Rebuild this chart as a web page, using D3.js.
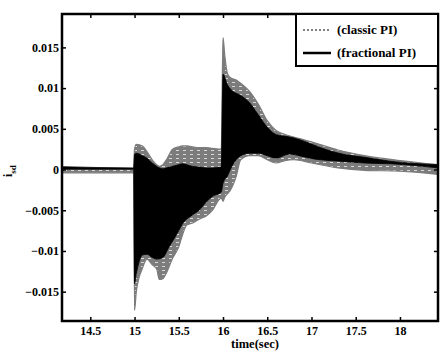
<!DOCTYPE html>
<html>
<head>
<meta charset="utf-8">
<script src="https://cdn.jsdelivr.net/npm/d3@7"></script>
<style>
  body { margin: 0; background: #fff; }
</style>
</head>
<body>
<figure id="chart" style="margin:0"></figure>
<script>
// classic PI envelope (grey dotted band)
const classicTime  = [14.18, 14.99, 15.0, 15.02, 15.09, 15.14, 15.2, 15.25, 15.28, 15.32, 15.36, 15.43, 15.5, 15.54, 15.59, 15.65, 15.73, 15.81, 15.88, 15.98,
  16.0, 16.02, 16.05, 16.08, 16.15, 16.2, 16.3, 16.4, 16.5, 16.6, 16.7, 16.8, 17.0, 17.3, 17.6, 18.0, 18.43];
const classicUpper = [0.00005, 0.00005, 0.0025, 0.0031, 0.0029, 0.0022, 0.0012, 0.0006, 0.0004, 0.0006, 0.0012, 0.0025, 0.0028, 0.0029, 0.0029, 0.0028, 0.0027, 0.0027, 0.0026, 0.0025,
  0.0162, 0.0140, 0.0118, 0.0113, 0.0110, 0.0106, 0.0096, 0.0080, 0.0060, 0.0048, 0.0043, 0.0040, 0.0034, 0.0024, 0.0017, 0.0011, 0.0006];
const classicLower = [-0.0004, -0.0004, -0.0173, -0.0150, -0.0121, -0.0110, -0.0117, -0.0122, -0.0135, -0.0134, -0.0127, -0.0109, -0.0095, -0.0081, -0.0068, -0.0066, -0.0061, -0.0057, -0.0050, -0.0035,
  -0.0039, -0.0034, -0.0030, -0.0026, -0.0008, 0.0012, 0.0017, 0.0017, 0.0012, 0.0008, 0.0011, 0.0012, 0.0008, 0.0002, -0.0001, -0.0002, -0.0006];

// fractional PI envelope (black band)
const fracTime  = [14.18, 14.99, 15.0, 15.02, 15.09, 15.14, 15.2, 15.25, 15.32, 15.39, 15.43, 15.5, 15.54, 15.65, 15.73, 15.81, 15.88, 15.98,
  16.0, 16.05, 16.1, 16.2, 16.3, 16.4, 16.5, 16.6, 16.75, 16.86, 16.98, 17.1, 17.35, 17.6, 17.9, 18.43];
const fracUpper = [0.00035, 0.0002, 0.0019, 0.0020, 0.0017, 0.0014, 0.0008, 0.0004, 0.0001, 0.0003, 0.0004, 0.0006, 0.0007, 0.0004, 0.0003, 0.0002, 0.0002, 0.0003,
  0.0117, 0.0104, 0.0097, 0.0091, 0.0082, 0.0067, 0.0052, 0.0043, 0.0040, 0.0037, 0.0032, 0.0027, 0.0019, 0.0015, 0.0010, 0.0006];
const fracLower = [0.00005, 0.00005, -0.0140, -0.0128, -0.0105, -0.0104, -0.0108, -0.0110, -0.0108, -0.0095, -0.0088, -0.0075, -0.0067, -0.0056, -0.0050, -0.0040, -0.0033, -0.0028,
  -0.0017, -0.0008, 0.0004, 0.0017, 0.0020, 0.0020, 0.0017, 0.0014, 0.0019, 0.0017, 0.0014, 0.0012, 0.0010, 0.0008, 0.0007, 0.0002];

const xTicks = [14.5, 15, 15.5, 16, 16.5, 17, 17.5, 18];
const yTicks = [-0.015, -0.01, -0.005, 0, 0.005, 0.01, 0.015];
const seriesNames = ["(classic PI)", "(fractional PI)"];

const width = 440, height = 352;
const margin = {top: 14, right: 2, bottom: 31, left: 62};
const FONT = "'Liberation Serif', 'Times New Roman', serif";

const svg = d3.select("figure#chart")
  .append("svg")
  .attr("width", width)
  .attr("height", height);

const x = d3.scaleLinear().domain([14.18, 18.43]).range([margin.left, width - margin.right]);
const y = d3.scaleLinear().domain([-0.0186, 0.0191]).range([height - margin.bottom, margin.top]);

// dotted grey texture for the classic PI band
const pat = svg.append("defs").append("pattern")
  .attr("id", "dots")
  .attr("patternUnits", "userSpaceOnUse")
  .attr("width", 7)
  .attr("height", 4);
pat.append("rect").attr("width", 7).attr("height", 4).attr("fill", "#7c7c7c");
pat.append("rect").attr("x", 1).attr("y", 2).attr("width", 3).attr("height", 1).attr("fill", "#d8d8d8");

const toRows = (t, lo, hi) => t.map((d, i) => ({t: d, lo: lo[i], hi: hi[i]}));

const area = d3.area()
  .x(d => x(d.t))
  .y0(d => y(d.lo))
  .y1(d => y(d.hi))
  .curve(d3.curveMonotoneX);

svg.append("path")
  .datum(toRows(classicTime, classicLower, classicUpper))
  .attr("d", area)
  .attr("fill", "url(#dots)")
  .attr("stroke", "#7c7c7c")
  .attr("stroke-width", 1.2);

svg.append("path")
  .datum(toRows(fracTime, fracLower, fracUpper))
  .attr("d", area)
  .attr("fill", "#000")
  .attr("stroke", "#000")
  .attr("stroke-width", 0.8);

// axes
const axBottom = svg.append("g")
  .attr("transform", "translate(0," + (height - margin.bottom) + ")")
  .call(d3.axisBottom(x).tickValues(xTicks).tickSize(-4).tickPadding(5).tickFormat(d3.format("")));
const axTop = svg.append("g")
  .attr("transform", "translate(0," + margin.top + ")")
  .call(d3.axisTop(x).tickValues(xTicks).tickSize(-4).tickFormat(""));
const axLeft = svg.append("g")
  .attr("transform", "translate(" + margin.left + ",0)")
  .call(d3.axisLeft(y).tickValues(yTicks).tickSize(-4).tickPadding(3).tickFormat(d => d === 0 ? "0" : d3.format("")(+d.toFixed(3))));
const axRight = svg.append("g")
  .attr("transform", "translate(" + (width - margin.right) + ",0)")
  .call(d3.axisRight(y).tickValues(yTicks).tickSize(-4).tickFormat(""));

[axBottom, axTop, axLeft, axRight].forEach(g => {
  g.select(".domain").remove();
  g.attr("font-family", null).attr("font-size", null);
  g.selectAll(".tick line").attr("stroke", "#000").attr("stroke-width", 1.5);
  g.selectAll("text")
    .attr("fill", "#000")
    .style("font-family", FONT)
    .style("font-weight", "bold")
    .style("font-size", "12px");
});

svg.append("rect")
  .attr("x", margin.left)
  .attr("y", margin.top)
  .attr("width", width - margin.left - margin.right)
  .attr("height", height - margin.top - margin.bottom)
  .attr("fill", "none")
  .attr("stroke", "#000")
  .attr("stroke-width", 2.5);

// axis labels
svg.append("text")
  .attr("x", 255)
  .attr("y", 348)
  .attr("text-anchor", "middle")
  .style("font-family", FONT)
  .style("font-weight", "bold")
  .style("font-size", "12.5px")
  .text("time(sec)");

const yl = svg.append("text")
  .attr("transform", "translate(12,177) rotate(-90)")
  .style("font-family", FONT)
  .style("font-weight", "bold")
  .style("font-size", "12px");
yl.append("tspan").text("i");
yl.append("tspan").attr("dy", 4).style("font-size", "9px").text("sd");

// legend
const lg = svg.append("g");
lg.append("rect")
  .attr("x", 296).attr("y", margin.top)
  .attr("width", width - margin.right - 296).attr("height", 52)
  .attr("fill", "#fff").attr("stroke", "#000").attr("stroke-width", 2);

lg.append("line")
  .attr("x1", 303).attr("x2", 331).attr("y1", 30).attr("y2", 30)
  .attr("stroke", "#808080").attr("stroke-width", 2).attr("stroke-dasharray", "2,2");
lg.append("line")
  .attr("x1", 303).attr("x2", 331).attr("y1", 53).attr("y2", 53)
  .attr("stroke", "#000").attr("stroke-width", 2.5);

lg.selectAll("text.leg")
  .data(seriesNames)
  .enter()
  .append("text")
  .attr("class", "leg")
  .attr("x", 337)
  .attr("y", (d, i) => 34 + i * 23)
  .style("font-family", FONT)
  .style("font-weight", "bold")
  .style("font-size", "13px")
  .text(d => d);
</script>
</body>
</html>
